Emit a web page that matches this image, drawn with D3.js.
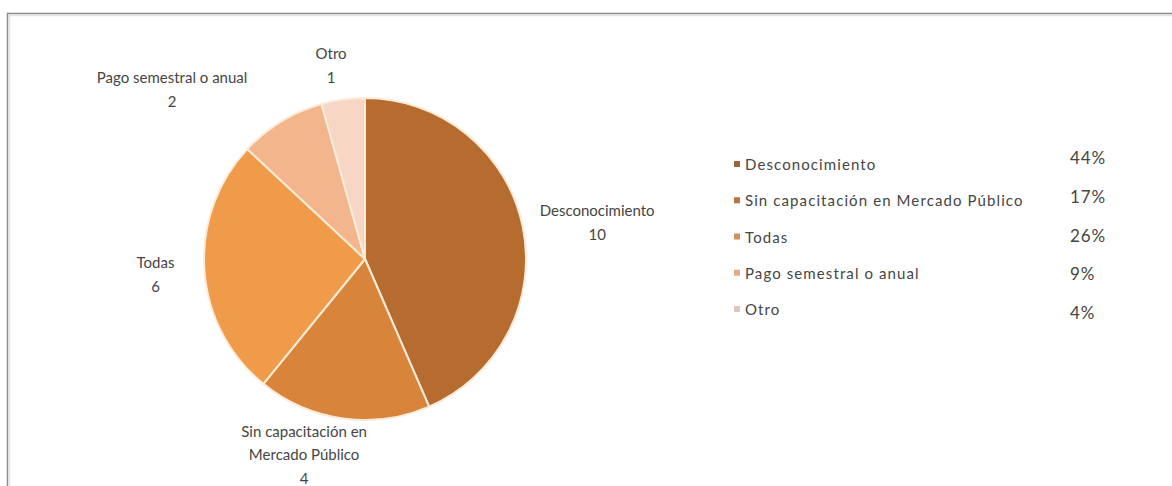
<!DOCTYPE html>
<html>
<head>
<meta charset="utf-8">
<script src="https://cdn.jsdelivr.net/npm/d3@7"></script>
<style>
  html, body { margin: 0; padding: 0; background: #ffffff; }
  svg { display: block; }
  text { font-family: Lato, "Open Sans", sans-serif; fill: #454545; }
</style>
</head>
<body>
<svg id="chart" width="1172" height="486"></svg>
<script>
// Motivos (conteo de respuestas)
const categories = ["Desconocimiento", "Sin capacitación en Mercado Público", "Todas", "Pago semestral o anual", "Otro"];
const counts = [10, 4, 6, 2, 1];
const percentLabels = ["44%", "17%", "26%", "9%", "4%"];
const sliceColors = ["#b66b2f", "#d8843b", "#f09b4a", "#f3b68c", "#f8d6c6"];
const legendColors = ["#9c6340", "#b8743f", "#cf925f", "#e4ab85", "#dcc6bd"];
// Data label lines (category name split as in the chart, then the count)
const labelLines = [
  ["Desconocimiento"],
  ["Sin capacitación en", "Mercado Público"],
  ["Todas"],
  ["Pago semestral o anual"],
  ["Otro"]
];

const svg = d3.select("#chart");

// frame
svg.append("path")
  .attr("d", "M7.5,486 L7.5,13.5 L1172,13.5")
  .attr("fill", "none")
  .attr("stroke", "#8a8a8a")
  .attr("stroke-width", 1.5);
svg.append("path")
  .attr("d", "M9.5,486 L9.5,15.5 L1172,15.5")
  .attr("fill", "none")
  .attr("stroke", "#e4e4e4")
  .attr("stroke-width", 1.5);

const cx = 365, cy = 259, r = 161;
const data = categories.map((c, i) => ({ name: c, value: counts[i], i }));

const pie = d3.pie().value(d => d.value).sort(null);
const arc = d3.arc().innerRadius(0).outerRadius(r);
const arcs = pie(data);

const g = svg.append("g").attr("transform", `translate(${cx},${cy})`);
g.selectAll("path.slice")
  .data(arcs)
  .enter().append("path")
  .attr("class", "slice")
  .attr("d", arc)
  .attr("fill", d => sliceColors[d.data.i])
  .attr("stroke", "#fdebd9")
  .attr("stroke-width", 2);

// data labels: anchor point along the slice's mid angle, nudged outward
const labelRadius = [232, 190, 205, 225, 205];
const labelShift = [[5, 16], [-35, 13], [-5, 7], [-76, 28], [-6, 15]];
arcs.forEach(a => {
  const i = a.data.i;
  const mid = (a.startAngle + a.endAngle) / 2;
  const lr = labelRadius[i];
  const x = cx + Math.sin(mid) * lr + labelShift[i][0];
  const lines = labelLines[i].concat([String(a.data.value)]);
  const lh = 23.5;
  const y0 = cy - Math.cos(mid) * lr + labelShift[i][1] - (lines.length - 1) * lh / 2;
  const t = svg.append("text")
    .attr("text-anchor", "middle")
    .attr("font-size", 15);
  lines.forEach((ln, k) => {
    t.append("tspan").attr("x", x).attr("y", y0 + k * lh).text(ln);
  });
});

// legend
const legendY = d3.scalePoint().domain(categories).range([170, 315]);
const legend = svg.append("g");
categories.forEach((c, i) => {
  const y = legendY(c);
  legend.append("rect")
    .attr("x", 734).attr("y", y - 9)
    .attr("width", 6).attr("height", 6)
    .attr("fill", legendColors[i]);
  legend.append("text")
    .attr("x", 745).attr("y", y)
    .attr("font-size", 15)
    .attr("letter-spacing", 1.1)
    .text(c);
});
const pctY = d3.scalePoint().domain(categories).range([164, 319]);
categories.forEach((c, i) => {
  legend.append("text")
    .attr("x", 1070).attr("y", pctY(c))
    .attr("font-size", 17)
    .attr("letter-spacing", 0.9)
    .text(percentLabels[i]);
});
</script>
</body>
</html>
